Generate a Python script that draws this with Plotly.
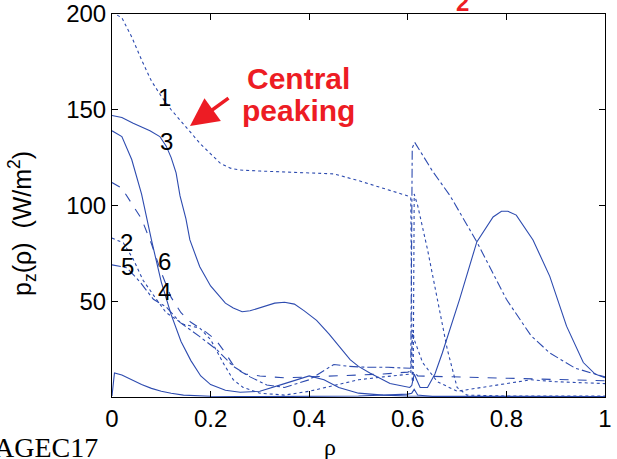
import plotly.graph_objects as go

# ---- data ----
rho1 = [0, .02, .04, .06, .08, .10, .12, .14, .16, .18, .20, .22, .24, .26, .30, .35, .40, .45, .50, .55, .60, .606, .609, .611, .613, .62, .64, .66, .68, .70, .72, .80, .90, 1.0]
p1 = [201, 198, 188, 176, 165, 157, 150, 144, 138, 132, 127, 122, 119.5, 118.5, 118, 117.5, 117, 116.5, 113, 109, 105, 104, 8, 8, 106, 100, 77, 51, 25, 5, 1, 0.5, 0.5, 0.5]

rho2 = [0, .023, .043, .063, .09, .11, .145, .178, .20, .225, .246, .266, .30, .35, .40, .45, .50, .55, .60, .606, .610, .613, .63, .66, .70, .75, .80, .85, .90, 1.0]
p2 = [83, 80.5, 72, 61, 51, 44, 38, 36, 30, 18, 9, 5, 2, 1, 3, 6, 9, 10.5, 12, 12, 35, 30, 18, 8, 3, 5, 7, 9, 8, 7]

rho3 = [0, .02, .043, .077, .097, .11, .12, .13, .138, .15, .158, .178, .20, .213, .23, .246, .264, .28, .30, .33, .35, .37, .39, .415, .44, .46, .483, .50, .523, .564, .604, .608, .613, .618, .625, .64, .655, .67, .705, .74, .773, .79, .803, .82, .854, .888, .922, .956, .98, 1.0]
p3 = [147, 146, 143, 139, 136, 131, 125, 117, 105, 93, 82, 68, 58, 54, 49, 46.5, 44.5, 45, 46.5, 49, 49.5, 48.5, 45, 40, 33, 27, 19.5, 16, 12.5, 7, 5, 6, 12, 9, 5, 5, 12, 23, 51, 81, 94, 97, 97, 95, 82, 63, 37, 18, 12, 10]

rho4 = [0, .02, .04, .06, .08, .10, .12, .14, .16, .19, .21, .23, .25, .27, .30, .35, .40, .45, .50, .55, .60, .606, .610, .62, .70, .80, .90, 1.0]
p4 = [112, 109, 101, 93, 80, 65, 52, 44, 39, 34, 30, 23, 15, 12, 11, 10, 10.5, 11, 11.5, 12, 13, 13.5, 14, 11, 10.5, 9.5, 9, 8.5]

rho5 = [0, .03, .057, .084, .11, .138, .178, .213, .246, .28, .314, .35, .40, .45, .48, .52, .56, .60, .606, .609, .614, .65, .686, .74, .80, .85, .888, .94, 1.0]
p5 = [69, 67.5, 60, 51, 47, 39, 31.5, 24.6, 16, 10.5, 6.3, 5, 9, 17, 16, 15.5, 15.5, 15, 15, 130, 133, 118, 105, 81, 51, 32, 23, 15, 10.5]

rho6 = [0, .02, .04, .06, .08, .10, .12, .14, .16, .18, .20, .23, .26, .30, .35, .40, .43, .46, .50, .55, .60, 1.0]
p6 = [139, 136, 124, 106, 82, 60, 43, 29, 19, 11, 6.5, 3.5, 2.5, 3, 7, 11, 9, 5, 2, 1, 0.5, 0.3]

rho7 = [0, .005, .02, .04, .06, .08, .10, .12, .145, .20, .30, .50, .60, .608, .613, .62, .65, 1.0]
p7 = [0.5, 12.5, 11.5, 9, 6.5, 4.5, 3, 2, 1, 0.4, 0.2, 0.5, 1.5, 2, 4, 1, 0.3, 0.3]

curve_labels = ["1", "3", "2", "5", "6", "4"]
label_rho = [.107, .110, .030, .032, .107, .107]
label_p = [156.3, 133.3, 80.5, 67.9, 70.5, 55.2]

x_ticks = [0, 0.2, 0.4, 0.6, 0.8, 1]
x_ticktext = ["0", "0.2", "0.4", "0.6", "0.8", "1"]
y_ticks = [0, 50, 100, 150, 200]
y_ticktext = ["", "50", "100", "150", "200"]

BLUE = "rgb(45,75,175)"
RED = "rgb(237,28,36)"

series = [
    (rho1, p1, "dot"),
    (rho2, p2, "dot"),
    (rho3, p3, "solid"),
    (rho4, p4, "dash"),
    (rho5, p5, "dashdot"),
    (rho6, p6, "solid"),
    (rho7, p7, "solid"),
]

fig = go.Figure()
for xs, ys, dash in series:
    fig.add_trace(go.Scatter(x=xs, y=ys, mode="lines",
                             line=dict(color=BLUE, width=1.1, dash=dash),
                             showlegend=False, hoverinfo="skip"))

for t, xr, yp in zip(curve_labels, label_rho, label_p):
    fig.add_annotation(x=xr, y=yp, text=t, showarrow=False,
                       xanchor="center", yanchor="middle",
                       font=dict(family="Liberation Sans", size=24, color="black"))


def paper_note(px, py, text, font, **kw):
    fig.add_annotation(xref="paper", yref="paper", x=(px - 112) / 493, y=(397 - py) / 383,
                       text=text, showarrow=False, yanchor="middle",
                       font=font, **kw)


# Central peaking annotation
paper_note(298, 79, "<b>Central</b>", dict(family="Liberation Sans", size=30, color=RED), xanchor="center")
paper_note(298, 110, "<b>peaking</b>", dict(family="Liberation Sans", size=30, color=RED), xanchor="center")
fig.add_annotation(x=(190 - 112) / 493, y=(397 - 126) / 1.915, text="",
                   showarrow=True, ax=40, ay=-29, arrowhead=2, arrowsize=1.6,
                   arrowwidth=3.5, arrowcolor=RED)

# axis titles
paper_note(22, 224, "p<sub>z</sub>(ρ)  (W/m<sup>2</sup>)",
           dict(family="Liberation Sans", size=25, color="black"), xanchor="center", textangle=-90)
paper_note(330, 447, "ρ", dict(family="Liberation Serif", size=24, color="black"), xanchor="center")
paper_note(100, 447, "AGEC17", dict(family="Liberation Serif", size=28, color="black"), xanchor="right")
# clipped red title fragment at the top
paper_note(462, 3, "<b>2</b>", dict(family="Liberation Sans", size=24, color=RED), xanchor="center")

axis_common = dict(showline=True, linecolor="black", linewidth=1, mirror="ticks",
                   ticks="inside", ticklen=6, tickcolor="black", showgrid=False,
                   zeroline=False, automargin=False,
                   tickfont=dict(family="Liberation Sans", size=24, color="black"))

fig.update_xaxes(range=[0, 1], tickvals=x_ticks, ticktext=x_ticktext, **axis_common)
fig.update_yaxes(range=[0, 200], tickvals=y_ticks, ticktext=y_ticktext, **axis_common)

fig.update_layout(width=617, height=459, margin=dict(l=112, r=12, t=14, b=62),
                  plot_bgcolor="white", paper_bgcolor="white")

fig.write_html("out.html")
